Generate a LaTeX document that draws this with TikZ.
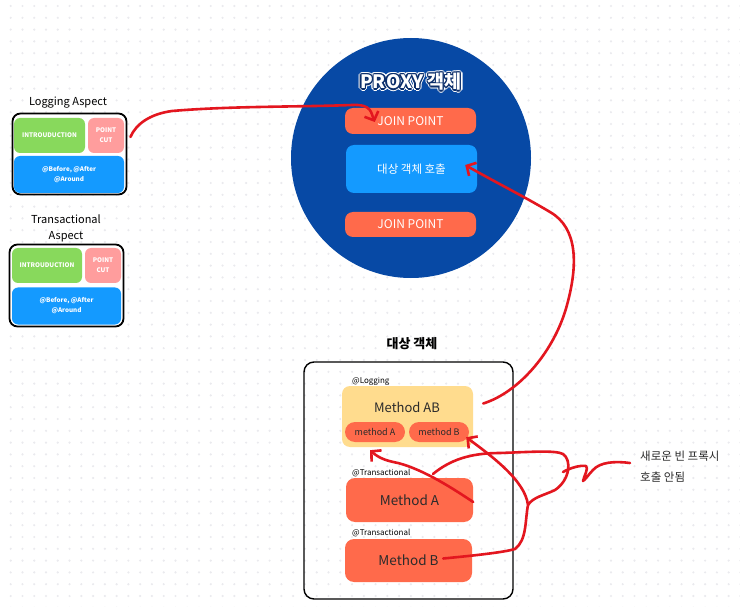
\documentclass[tikz,border=0pt]{standalone}
\usepackage{fontspec}
\setmainfont{Noto Sans CJK KR}
\usetikzlibrary{arrows.meta,calc}
\definecolor{dotgray}{HTML}{EAEAEE}
\definecolor{navy}{HTML}{0749A5}
\definecolor{navydark}{HTML}{0B2E6B}
\definecolor{skyblue}{HTML}{149AFF}
\definecolor{tomatored}{HTML}{FF6A4B}
\definecolor{leafgreen}{HTML}{88D95C}
\definecolor{salmon}{HTML}{FF9D9D}
\definecolor{butter}{HTML}{FFDC8E}
\definecolor{penred}{HTML}{E3161F}
\definecolor{inkdark}{HTML}{2B2B2B}
\begin{document}
\begin{tikzpicture}[x=1pt,y=-1pt, line join=round, line cap=round,
	aspectbox/.style={draw=black, line width=1.8pt, fill=white, rounded corners=8pt, inner sep=0pt},
	intro/.style={fill=leafgreen, rounded corners=6pt, inner sep=0pt, text=white, font=\fontsize{6.3}{7}\selectfont\bfseries},
	pcut/.style={fill=salmon, rounded corners=6pt, inner sep=0pt, text=white, align=center, font=\fontsize{6.3}{10}\selectfont\bfseries},
	advice/.style={fill=skyblue, rounded corners=6pt, inner sep=0pt, text=white, align=center, font=\fontsize{6.3}{10}\selectfont\bfseries},
	heading/.style={inner sep=0pt, align=center, text=black, font=\fontsize{11}{16}\selectfont},
	ptitle/.style={inner sep=0pt, font=\fontsize{18.5}{22}\selectfont\bfseries},
	jpbox/.style={fill=tomatored, rounded corners=8pt, inner sep=0pt, minimum width=131, text=white, font=\fontsize{12}{14}\selectfont},
	callbox/.style={fill=skyblue, rounded corners=8pt, inner sep=0pt, minimum width=131, text=white, font=\fontsize{11.5}{14}\selectfont},
	methodbox/.style={fill=tomatored, rounded corners=9pt, inner sep=0pt, minimum width=127, text=inkdark, font=\fontsize{13.5}{16}\selectfont},
	subbox/.style={fill=tomatored, rounded corners=10pt, inner sep=0pt, minimum width=60, minimum height=20, text=inkdark, font=\fontsize{9}{11}\selectfont},
	tag/.style={anchor=west, inner sep=0pt, text=black, font=\fontsize{8}{9}\selectfont},
	redpen/.style={draw=penred, line width=2.6pt},
	penarrow/.style={redpen, -{Straight Barb[length=7pt,width=15pt]}}]
	\useasboundingbox (0,0) rectangle (740,607);
	\fill[white] (0,0) rectangle (740,607);
	% dot grid
	\foreach \i in {0,...,62} \foreach \j in {0,...,51}
		\fill[dotgray] ({10.7+11.77*\i},{6+11.8*\j}) circle (1.2);
	
	% aspects
	\node[heading] (logtitle) at (68,103) {Logging Aspect};
	\node[aspectbox, minimum width=114, minimum height=81] (logbox) at (69.5,154) {};
	\node[intro, minimum width=71, minimum height=35] (logintro) at (49.5,135.5) {INTROUDUCTION};
	\node[pcut, minimum width=36, minimum height=35] (logpc) at (106,135.5) {POINT\\CUT};
	\node[advice, minimum width=110, minimum height=37] (logadv) at (69,174.5) {@Before, @After\\@Around};
	
	\node[heading] (txtitle) at (66,228) {Transactional\\Aspect};
	\node[aspectbox, minimum width=114, minimum height=82] (txbox) at (66.5,285.5) {};
	\node[intro, minimum width=70, minimum height=35] (txintro) at (47,265.5) {INTROUDUCTION};
	\node[pcut, minimum width=36, minimum height=35] (txpc) at (103,265.5) {POINT\\CUT};
	\node[advice, minimum width=109, minimum height=37] (txadv) at (66.5,306) {@Before, @After\\@Around};
	
	% proxy
	\node[circle, fill=navy, inner sep=0pt, minimum size=240] (proxy) at (411,158) {};
	\coordinate (ptc) at ($(proxy.north)+(0,44)$);
	\foreach \a in {0,30,...,330}
		\node[ptitle, text=white] (pto\a) at ($(ptc)+(\a:2.5pt)$) {PROXY 객체};
	\foreach \a in {0,45,...,315}
		\node[ptitle, text=navydark] (ptm\a) at ($(ptc)+(\a:1.3pt)$) {PROXY 객체};
	\node[ptitle, text=white] (pt) at (ptc) {PROXY 객체};
	\node[jpbox, minimum height=26] (jp1) at (410.5,121) {JOIN POINT};
	\node[callbox, minimum height=48] (call) at (411.5,169) {대상 객체 호출};
	\node[jpbox, minimum height=25] (jp2) at (410.5,224.5) {JOIN POINT};
	
	% target
	\node[inner sep=0pt, font=\fontsize{13}{15}\selectfont\bfseries] (ttitle) at (412,344) {대상 객체};
	\node[draw=black, line width=1.4pt, rounded corners=10pt, inner sep=0pt, minimum width=209, minimum height=237] (tbox) at (408.5,480.5) {};
	\node[tag] (tlog) at (352,381) {@Logging};
	\node[fill=butter, rounded corners=8pt, inner sep=0pt, minimum width=131, minimum height=61] (mab) at (407.5,416.5) {};
	\node[inner sep=0pt, text=inkdark, font=\fontsize{13}{15}\selectfont] (mabt) at (407,407) {Method AB};
	\node[subbox] (msa) at (375,432) {method A};
	\node[subbox] (msb) at (439,432) {method B};
	\node[tag] (ttx1) at (352,473) {@Transactional};
	\node[methodbox, minimum height=44] (ma) at (409.5,500) {Method A};
	\node[tag] (ttx2) at (352,533) {@Transactional};
	\node[methodbox, minimum height=43] (mb) at (408.5,560.5) {Method B};
	
	\node[anchor=west, align=left, inner sep=0pt, text=inkdark, font=\fontsize{11.5}{21}\selectfont] (note) at (640,467) {새로운 빈 프록시\\호출 안됨};
	
	% red pen
	\coordinate (bsplit) at (433,474);
	\coordinate (bjoin) at (528,505);
	\coordinate (btip) at (563,472);
	\draw[penarrow] ($(logbox.east)+(3,-17)$) .. controls (136,124) and (150,114) .. (172,111)
		.. controls (230,106) and (300,107) .. (352,105)
		.. controls (372,104) and (371,113) .. ($(jp1.west)+(30,1)$);
	\draw[penarrow] ($(mab.east)+(10,-13)$) .. controls (520,392) and (555,350) .. (567,305)
		.. controls (578,265) and (578,228) .. (550,212)
		.. controls (525,197) and (495,182) .. ($(call.east)+(-12,-4)$);
	\draw[penarrow] ($(ma.east)+(0,2)$) .. controls (455,490) and (425,470) .. (398,463)
		.. controls (388,461) and (380,459) .. ($(msa.south)+(-5,8)$);
	\draw[penarrow] ($(mb.east)+(-29,-2)$) .. controls (480,555) and (505,552) .. (515,549)
		.. controls (527,540) and (525,520) .. (bjoin)
		.. controls (525,480) and (490,455) .. ($(msb.south east)+(-3,-5)$);
	\draw[redpen] (bsplit) .. controls (450,460) and (470,453) .. (500,453)
		.. controls (530,452) and (555,450) .. (563,454)
		.. controls (572,460) and (570,480) .. (555,490)
		.. controls (545,495) and (533,497) .. (bjoin);
	\draw[redpen] ($(note.west)+(-10,-4)$) .. controls (615,461) and (600,462) .. (593,470)
		.. controls (589,474) and (585,480) .. (583,481)
		.. controls (584,476) and (589,468) .. (586,466)
		.. controls (580,465) and (570,468) .. (btip);
\end{tikzpicture}
\end{document}
